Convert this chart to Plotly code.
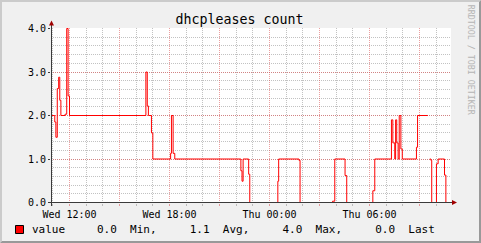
import plotly.graph_objects as go

# ---------------- data ----------------
WED = "2024-01-03"  # a Wednesday
THU = "2024-01-04"

change_times = [
    f"{WED} 10:54", f"{WED} 11:07", f"{WED} 11:11", f"{WED} 11:16", f"{WED} 11:21",
    f"{WED} 11:25", f"{WED} 11:29", f"{WED} 11:44", f"{WED} 11:50", f"{WED} 11:55",
    f"{WED} 12:00", f"{WED} 16:35", f"{WED} 16:40", f"{WED} 16:44", f"{WED} 16:55",
    f"{WED} 17:00", f"{WED} 18:04", f"{WED} 18:07", f"{WED} 18:13", f"{WED} 18:19",
    f"{WED} 22:17", f"{WED} 22:21", f"{WED} 22:25", f"{WED} 22:45", f"{WED} 22:49",
    f"{THU} 00:30", f"{THU} 00:33", f"{THU} 01:46", f"{THU} 01:50", f"{THU} 03:47",
    f"{THU} 03:55", f"{THU} 04:32", f"{THU} 04:38", f"{THU} 06:12", f"{THU} 06:19",
    f"{THU} 07:19", f"{THU} 07:24", f"{THU} 07:31", f"{THU} 07:34", f"{THU} 07:38",
    f"{THU} 07:43", f"{THU} 07:47", f"{THU} 07:53", f"{THU} 07:58", f"{THU} 08:49",
    f"{THU} 08:53", f"{THU} 09:30", f"{THU} 09:37", f"{THU} 09:41", f"{THU} 09:44",
    f"{THU} 10:01", f"{THU} 10:07", f"{THU} 10:30", f"{THU} 10:35", f"{THU} 10:54",
]
values = [
    2.0, 1.85, 1.5, 2.62, 2.88,
    2.35, 2.0, 2.03, 4.0, 2.45,
    2.0, 3.0, 2.22, 2.0, 1.6,
    1.0, 1.13, 2.0, 1.13, 1.0,
    0.73, 0.49, 1.0, 0.65, 0.0,
    0.49, 1.0, 0.97, 0.0, 0.03,
    1.0, 0.62, 0.0, 0.27, 1.0,
    1.9, 1.37, 1.0, 1.9, 1.37,
    1.0, 2.0, 1.23, 1.0, 1.27,
    2.0, None, 1.0, 0.97, 0.0,
    0.89, 1.0, 0.63, 0.0, 0.0,
]

y_ticks = [0, 1, 2, 3, 4]
y_tick_labels = ["0.0", "1.0", "2.0", "3.0", "4.0"]
x_range = [f"{WED} 10:53:24", f"{THU} 10:53:24"]

title_text = "dhcpleases count"
series_name = "value"
stat_values = ["0.0", "1.1", "4.0", "0.0"]
stat_names = ["Min,", "Avg,", "Max,", "Last"]
watermark = "RRDTOOL / TOBI OETIKER"

# ---------------- styling ----------------
MONO = "DejaVu Sans Mono"
W, H = 481, 243
L, R, T, B = 51, 30, 28, 40
PW, PH = W - L - R, H - T - B
MGRID = "rgba(222,80,80,0.55)"
GRID = "rgba(143,143,143,0.55)"
AXIS = "#3a3a3a"
ARROW = "#A00000"


def fx(px):
    return (px - L) / PW


def fy(py):
    return (H - B - py) / PH


# step series with gap handling
xs, ys = [], []
prev = None
for t, v in zip(change_times, values):
    if v is None:
        xs += [t, t]
        ys += [prev, None]
    else:
        xs.append(t)
        ys.append(v)
    prev = v

fig = go.Figure()
fig.add_trace(go.Scatter(
    x=xs, y=ys, mode="lines", line=dict(color="#FF0000", width=1, shape="hv"),
    connectgaps=False, showlegend=False, hoverinfo="skip",
))

shapes = []
# 3d border
shapes.append(dict(type="path", xref="paper", yref="paper", layer="above",
                   path=f"M {fx(0)} {fy(H)} L {fx(2)} {fy(H-2)} L {fx(2)} {fy(2)} L {fx(W-2)} {fy(2)} "
                        f"L {fx(W)} {fy(0)} L {fx(0)} {fy(0)} Z",
                   fillcolor="#CBCBCB", line=dict(width=0)))
shapes.append(dict(type="path", xref="paper", yref="paper", layer="above",
                   path=f"M {fx(2)} {fy(H-2)} L {fx(W-2)} {fy(H-2)} L {fx(W-2)} {fy(2)} L {fx(W)} {fy(0)} "
                        f"L {fx(W)} {fy(H)} L {fx(0)} {fy(H)} Z",
                   fillcolor="#999999", line=dict(width=0)))
# axes lines
shapes.append(dict(type="line", xref="paper", yref="paper", layer="above",
                   x0=fx(51.5), x1=fx(51.5), y0=fy(206), y1=fy(24),
                   line=dict(color=AXIS, width=1)))
shapes.append(dict(type="line", xref="paper", yref="paper", layer="above",
                   x0=fx(48), x1=fx(453), y0=fy(202.5), y1=fy(202.5),
                   line=dict(color=AXIS, width=1)))
# arrows
shapes.append(dict(type="path", xref="paper", yref="paper", layer="above",
                   path=f"M {fx(51.5)} {fy(20.5)} L {fx(49)} {fy(25.5)} L {fx(54)} {fy(25.5)} Z",
                   fillcolor=ARROW, line=dict(width=0)))
shapes.append(dict(type="path", xref="paper", yref="paper", layer="above",
                   path=f"M {fx(457)} {fy(202.5)} L {fx(452)} {fy(200)} L {fx(452)} {fy(205)} Z",
                   fillcolor=ARROW, line=dict(width=0)))
# legend swatch
shapes.append(dict(type="rect", xref="paper", yref="paper", layer="above",
                   x0=fx(15.5), x1=fx(23.5), y0=fy(225.5), y1=fy(233.5),
                   fillcolor="#FF0000", line=dict(color="black", width=1)))

NB = "\u00a0"
stats_text = (NB * 5).join(f"{v}{NB*2}{n}" for v, n in zip(stat_values, stat_names))

annotations = [
    dict(text=series_name, xref="paper", yref="paper", x=fx(30), y=fy(229.3),
         xanchor="left", yanchor="middle", showarrow=False,
         font=dict(family=MONO, size=11, color="black")),
    dict(text=stats_text, xref="paper", yref="paper", x=fx(95), y=fy(229.3),
         xanchor="left", yanchor="middle", showarrow=False,
         font=dict(family=MONO, size=11, color="black")),
    dict(text=watermark, xref="paper", yref="paper", x=fx(471.7), y=fy(59.5),
         xanchor="center", yanchor="middle", showarrow=False, textangle=90,
         font=dict(family=MONO, size=8.3, color="#B4B4B4")),
]

fig.update_layout(
    width=W, height=H, margin=dict(l=L, r=R, t=T, b=B, pad=0),
    paper_bgcolor="#F0F0F0", plot_bgcolor="#FFFFFF",
    title=dict(text=title_text, x=239.5 / W, xref="container", xanchor="center",
               y=1 - 19.3 / H, yref="container", yanchor="middle",
               font=dict(family=MONO, size=13.3, color="black")),
    showlegend=False,
    shapes=shapes,
    annotations=annotations,
    xaxis=dict(
        type="date", range=x_range, fixedrange=True,
        tickmode="linear", tick0=f"{WED} 00:00", dtick=3 * 3600000, ticklabelstep=2,
        tickformat="%a %H:%M",
        showgrid=True, gridcolor=MGRID, griddash="1px,1px", gridwidth=1,
        ticks="outside", ticklen=2, tickcolor=MGRID,
        minor=dict(tickmode="linear", tick0=f"{WED} 00:00", dtick=3600000, showgrid=True,
                   gridcolor=GRID, griddash="1px,1px", gridwidth=1,
                   ticks="outside", ticklen=2, tickcolor=GRID),
        showline=False, zeroline=False, layer="below traces",
        tickfont=dict(family=MONO, size=10, color="black"),
    ),
    yaxis=dict(
        range=[-0.5 / 43.5, 4 + 0.5 / 43.5], fixedrange=True,
        tickmode="array", tickvals=y_ticks, ticktext=y_tick_labels,
        showgrid=True, gridcolor=MGRID, griddash="1px,1px", gridwidth=1,
        ticks="outside", ticklen=2, tickcolor=AXIS,
        minor=dict(tickmode="linear", tick0=0, dtick=0.2, showgrid=True,
                   gridcolor=GRID, griddash="1px,1px", gridwidth=1),
        showline=False, zeroline=False, layer="below traces",
        tickfont=dict(family=MONO, size=10, color="black"),
    ),
)

fig.write_html("out.html", config={"displayModeBar": False})
